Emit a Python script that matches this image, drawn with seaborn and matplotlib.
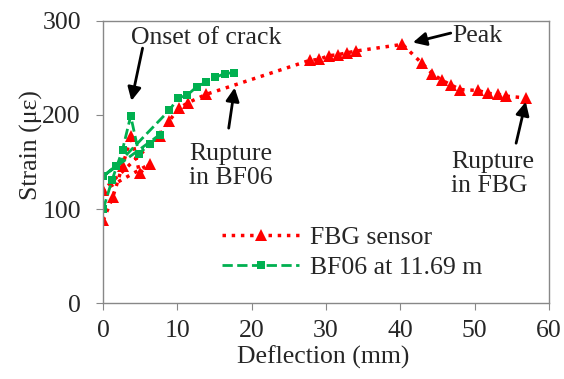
import matplotlib
matplotlib.use('Agg')
import matplotlib.pyplot as plt
import seaborn as sns

# data
fbg_defl = [0, 1.3, 2.6, 3.8, 4.9, 6.3, 0, 7.6, 8.9, 10.2, 11.4, 13.9,
            27.8, 29.0, 30.4, 31.6, 32.8, 34.1, 40.3,
            42.9, 44.3, 45.6, 46.8, 48.1, 50.5, 51.8, 53.1, 54.3, 57.0]
fbg_strain = [88, 113, 146, 178, 138, 148, 120, 178, 194, 207, 213, 222,
              258, 259, 263, 264, 266, 268, 275,
              255, 244, 237, 232, 227, 226, 223, 222, 220, 218]

bf_defl = [0, 1.2, 2.6, 3.7, 4.8, 6.3, 7.6, 0, 1.7, 8.9, 10.1, 11.3,
           12.6, 13.9, 15.1, 16.4, 17.6]
bf_strain = [100, 131, 163, 199, 159, 169, 179, 135, 146, 205, 218, 221,
             230, 235, 240, 244, 245]

sns.set_style('white')
plt.rcParams['font.family'] = ['Liberation Serif', 'DejaVu Serif']
FS = 18.5

fig, ax = plt.subplots(figsize=(5.64, 3.79), dpi=100)
fig.subplots_adjust(left=0.183, right=0.973, top=0.945, bottom=0.2)

sns.lineplot(x=fbg_defl, y=fbg_strain, sort=False, estimator=None, ax=ax,
             color='#ff0000', linestyle=':', linewidth=2.5, marker='^',
             markersize=8.5, markeredgewidth=0, label='FBG sensor')
sns.lineplot(x=bf_defl, y=bf_strain, sort=False, estimator=None, ax=ax,
             color='#00b050', linestyle='--', linewidth=2, marker='s',
             markersize=6, markeredgewidth=0, label='BF06 at 11.69 m')

ax.set_xlim(0, 60)
ax.set_ylim(0, 300)
ax.set_xticks(range(0, 61, 10))
ax.set_yticks([0, 100, 200, 300])
ax.set_xlabel('Deflection (mm)', fontsize=FS)
ax.set_ylabel('Strain (με)', fontsize=FS)
ax.xaxis.set_label_coords(0.493, -0.15)
ax.yaxis.set_label_coords(-0.136, 0.56)
ax.tick_params(labelsize=FS, length=5, color='#888888', direction='out',
               bottom=True, left=True)
ax.tick_params(axis='x', pad=7)
ax.tick_params(axis='y', pad=11)
for s in ax.spines.values():
    s.set_color('#888888')
    s.set_linewidth(1)

ax.legend(frameon=False, fontsize=FS, loc='upper left', numpoints=1,
          bbox_to_anchor=(0.244, 0.31), borderaxespad=0, handlelength=3.0,
          labelspacing=0.28, handletextpad=0.4)

arrow = dict(arrowstyle='-|>', color='black', lw=2, mutation_scale=20,
             shrinkA=0, shrinkB=0)
ax.annotate('Onset of crack', xy=(3.8, 215), xytext=(13.9, 282),
            fontsize=FS, ha='center', va='center')
ax.annotate('', xy=(3.8, 215), xytext=(5.3, 271), arrowprops=arrow)
ax.annotate('Peak', xy=(41.7, 277), xytext=(47.0, 284),
            fontsize=FS, ha='left', va='center')
ax.annotate('', xy=(41.7, 277), xytext=(46.8, 287), arrowprops=arrow)
ax.annotate('Rupture\nin BF06', xy=(17.7, 229), xytext=(17.2, 146),
            fontsize=FS, ha='center', va='center', linespacing=1.12)
ax.annotate('', xy=(17.7, 229), xytext=(16.9, 186), arrowprops=arrow)
ax.annotate('Rupture\nin FBG', xy=(56.9, 214), xytext=(46.9, 137),
            fontsize=FS, ha='left', va='center', linespacing=1.12)
ax.annotate('', xy=(56.9, 214), xytext=(55.6, 170), arrowprops=arrow)

fig.savefig('out.png', dpi=100)
